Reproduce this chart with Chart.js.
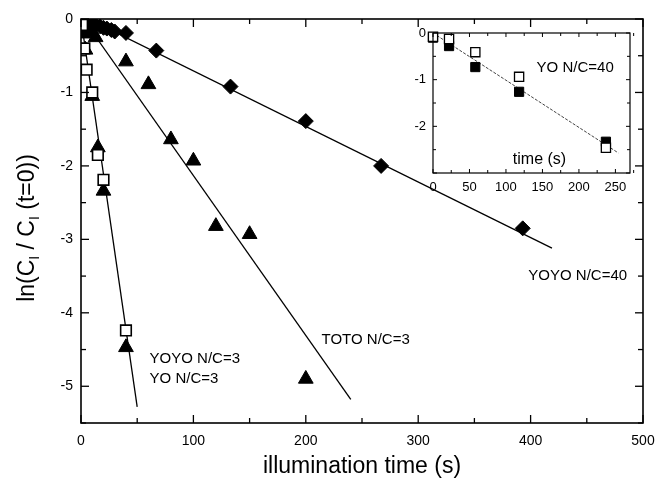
<!DOCTYPE html>
<html>
<head>
<meta charset="utf-8">
<script src="https://cdn.jsdelivr.net/npm/chart.js@4.4.1/dist/chart.umd.min.js"></script>
<style>
  html, body { margin: 0; padding: 0; background: #fff; }
  #wrap { position: relative; width: 657px; height: 481px; }
  #main { position: absolute; left: 0; top: 0; }
  #inset { position: absolute; left: 395px; top: 20px; }
</style>
</head>
<body>
<div id="wrap">
  <canvas id="main" width="657" height="481" style="width:657px;height:481px"></canvas>
  <canvas id="inset" width="250" height="180" style="width:250px;height:180px"></canvas>
</div>
<script>
// Main plot: ln(C_I / C_I(t=0)) vs illumination time (s)
const yoyo40Time = [0, 3, 6, 10, 13, 17, 20, 23, 27, 30, 40, 67, 133, 200, 267, 393];
const yoyo40Ln   = [0, -0.02, -0.04, -0.06, -0.08, -0.1, -0.12, -0.13, -0.15, -0.17, -0.19, -0.43, -0.92, -1.39, -2.0, -2.85];

const totoTime = [0, 3, 7, 10, 13, 40, 60, 80, 100, 120, 150, 200];
const totoLn   = [0, -0.05, -0.12, -0.18, -0.25, -0.58, -0.89, -1.64, -1.93, -2.82, -2.93, -4.9];

const yoyo3Time = [0, 1, 2, 4, 10, 15, 20, 40];
const yoyo3Ln   = [0, -0.1, -0.2, -0.42, -1.05, -1.75, -2.34, -4.47];

const yo3Time = [0, 1, 3, 5, 10, 15, 20, 40];
const yo3Ln   = [0, -0.08, -0.4, -0.69, -1.0, -1.85, -2.19, -4.24];

// fitted lines (end points)
const yoyo40FitTime = [0, 419];
const yoyo40FitLn   = [0.05, -3.12];
const totoFitTime = [2, 240];
const totoFitLn   = [0.0, -5.18];
const steepFitTime = [0, 50];
const steepFitLn   = [0, -5.28];

const xTicks = [0, 100, 200, 300, 400, 500];
const yTicks = [0, -1, -2, -3, -4, -5];

// Inset: YO N/C=40
const yo40Time     = [0, 22, 58, 118, 237];
const yo40FilledLn = [-0.1, -0.28, -0.73, -1.26, -2.33];
const yo40OpenLn   = [-0.08, -0.13, -0.41, -0.94, -2.46];
const yo40FitTime = [0, 254];
const yo40FitLn   = [0, -2.57];

const insetXTicks = [0, 50, 100, 150, 200, 250];
const insetYTicks = [0, -1, -2];

const FONT = '"Liberation Sans", Arial, Helvetica, sans-serif';

const pts = (xs, ys) => xs.map((x, i) => ({ x: x, y: ys[i] }));

// Frame with inward ticks on all four sides
const frameTicks = {
    id: 'frameTicks',
    afterDatasetsDraw(chart, args, o) {
        const { ctx, chartArea: a, scales: { x, y } } = chart;
        ctx.save();
        ctx.strokeStyle = '#000';
        ctx.lineWidth = o.lineWidth;
        ctx.strokeRect(a.left, a.top, a.right - a.left, a.bottom - a.top);
        ctx.lineWidth = o.tickWidth;
        const seg = (x1, y1, x2, y2) => {
            ctx.beginPath(); ctx.moveTo(x1, y1); ctx.lineTo(x2, y2); ctx.stroke();
        };
        const isMajor = (v, step) => Math.abs(v / step - Math.round(v / step)) < 1e-6;
        const nx = Math.round((x.max - x.min) / o.xMinor);
        for (let i = 0; i <= nx; i++) {
            const v = x.min + i * o.xMinor;
            const len = isMajor(v, o.xMajor) ? o.major : o.minor;
            const px = x.getPixelForValue(v);
            seg(px, a.bottom, px, a.bottom - len);
            seg(px, a.top, px, a.top + len);
        }
        const ny = Math.round((y.max - y.min) / o.yMinor);
        for (let i = 0; i <= ny; i++) {
            const v = y.min + i * o.yMinor;
            const len = isMajor(v, o.yMajor) ? o.major : o.minor;
            const py = y.getPixelForValue(v);
            seg(a.left, py, a.left + len, py);
            seg(a.right, py, a.right - len, py);
        }
        ctx.restore();
    }
};

// Text labels placed in data coordinates
const textLabels = {
    id: 'textLabels',
    afterDraw(chart, args, o) {
        const { ctx, scales: { x, y } } = chart;
        ctx.save();
        ctx.fillStyle = '#000';
        ctx.textBaseline = 'middle';
        (o.items || []).forEach(t => {
            ctx.font = t.size + 'px ' + FONT;
            ctx.textAlign = t.align || 'left';
            ctx.fillText(t.text, x.getPixelForValue(t.x), y.getPixelForValue(t.y));
        });
        ctx.restore();
    }
};

// White background for the inset plot area
const whiteArea = {
    id: 'whiteArea',
    beforeDatasetsDraw(chart) {
        const { ctx, chartArea: a } = chart;
        ctx.save();
        ctx.fillStyle = '#fff';
        ctx.fillRect(a.left, a.top, a.right - a.left, a.bottom - a.top);
        ctx.restore();
    }
};

// Axis titles of the main plot (y title has subscripts)
const axisTitles = {
    id: 'axisTitles',
    afterDraw(chart) {
        const { ctx, chartArea: a } = chart;
        ctx.save();
        ctx.fillStyle = '#000';
        ctx.textBaseline = 'middle';
        ctx.textAlign = 'center';
        ctx.font = '23px ' + FONT;
        ctx.fillText('illumination time (s)', (a.left + a.right) / 2, 467);

        const parts = [
            ['ln(C', 23, 0], ['I', 14, 7], [' / C', 23, 0], ['I', 14, 7], [' (t=0))', 23, 0]
        ];
        let total = 0;
        parts.forEach(p => { ctx.font = p[1] + 'px ' + FONT; total += ctx.measureText(p[0]).width; });
        ctx.translate(28, 228);
        ctx.rotate(-Math.PI / 2);
        ctx.textAlign = 'left';
        let cx = -total / 2;
        parts.forEach(p => {
            ctx.font = p[1] + 'px ' + FONT;
            ctx.fillText(p[0], cx, p[2]);
            cx += ctx.measureText(p[0]).width;
        });
        ctx.restore();
    }
};

const tickFont = size => ({ family: FONT, size: size });

// fix the scale box sizes so the plot area lands where the original has it
const fixX = h => s => { s.height = h; s.paddingLeft = 0; s.paddingRight = 0; };
const fixY = w => s => { s.width = w; s.paddingTop = 0; s.paddingBottom = 0; };

new Chart(document.getElementById('main'), {
    type: 'scatter',
    data: {
        datasets: [
            { label: 'YO N/C=3', data: pts(yo3Time, yo3Ln), pointStyle: 'rect', pointRadius: 7.5,
              backgroundColor: '#fff', borderColor: '#000', borderWidth: 1.6 },
            { label: 'YOYO N/C=3', data: pts(yoyo3Time, yoyo3Ln), pointStyle: 'triangle', pointRadius: 8.5,
              backgroundColor: '#000', borderColor: '#000', borderWidth: 1 },
            { label: 'TOTO N/C=3', data: pts(totoTime, totoLn), pointStyle: 'triangle', pointRadius: 8.5,
              backgroundColor: '#000', borderColor: '#000', borderWidth: 1 },
            { label: 'YOYO N/C=40', data: pts(yoyo40Time, yoyo40Ln), pointStyle: 'rectRot', pointRadius: 7.5,
              backgroundColor: '#000', borderColor: '#000', borderWidth: 1 },
            { data: pts(yoyo40FitTime, yoyo40FitLn), showLine: true, pointRadius: 0,
              borderColor: '#000', borderWidth: 1.3, fill: false },
            { data: pts(totoFitTime, totoFitLn), showLine: true, pointRadius: 0,
              borderColor: '#000', borderWidth: 1.3, fill: false },
            { data: pts(steepFitTime, steepFitLn), showLine: true, pointRadius: 0,
              borderColor: '#000', borderWidth: 1.3, fill: false }
        ]
    },
    options: {
        responsive: false,
        animation: false,
        layout: { padding: { left: 0, top: 19, right: 14, bottom: 0 } },
        plugins: {
            legend: { display: false },
            tooltip: { enabled: false },
            frameTicks: { lineWidth: 1.6, tickWidth: 1.3, xMajor: 100, xMinor: 50, yMajor: 1, yMinor: 0.5, major: 8, minor: 5 },
            textLabels: {
                items: [
                    { text: 'YOYO N/C=40', x: 398, y: -3.5, size: 15 },
                    { text: 'TOTO N/C=3', x: 214, y: -4.37, size: 15 },
                    { text: 'YOYO N/C=3', x: 61, y: -4.63, size: 15 },
                    { text: 'YO N/C=3', x: 61, y: -4.9, size: 15 }
                ]
            }
        },
        scales: {
            x: {
                type: 'linear', min: 0, max: 500,
                afterBuildTicks: s => { s.ticks = xTicks.map(v => ({ value: v })); },
                afterFit: fixX(58),
                grid: { display: false, drawTicks: false },
                border: { display: false },
                ticks: { font: tickFont(14), color: '#000', padding: 10, maxRotation: 0 }
            },
            y: {
                type: 'linear', min: -5.5, max: 0,
                afterBuildTicks: s => { s.ticks = yTicks.map(v => ({ value: v })); },
                afterFit: fixY(81),
                grid: { display: false, drawTicks: false },
                border: { display: false },
                ticks: { font: tickFont(14), color: '#000', padding: 8 }
            }
        }
    },
    plugins: [frameTicks, textLabels, axisTitles]
});

new Chart(document.getElementById('inset'), {
    type: 'scatter',
    data: {
        datasets: [
            { label: 'open', data: pts(yo40Time, yo40OpenLn), pointStyle: 'rect', pointRadius: 6.5,
              backgroundColor: '#fff', borderColor: '#000', borderWidth: 1.3 },
            { label: 'filled', data: pts(yo40Time, yo40FilledLn), pointStyle: 'rect', pointRadius: 6.5,
              backgroundColor: '#000', borderColor: '#000', borderWidth: 1 },
            { data: pts(yo40FitTime, yo40FitLn), showLine: true, pointRadius: 0,
              borderColor: '#444', borderWidth: 1, borderDash: [3, 1.5], fill: false }
        ]
    },
    options: {
        responsive: false,
        animation: false,
        clip: false,
        layout: { padding: { left: 0, top: 13, right: 15, bottom: 0 } },
        plugins: {
            legend: { display: false },
            tooltip: { enabled: false },
            frameTicks: { lineWidth: 1.2, tickWidth: 1, xMajor: 50, xMinor: 25, yMajor: 1, yMinor: 0.5, major: 4, minor: 3 },
            textLabels: {
                items: [
                    { text: 'YO N/C=40', x: 142, y: -0.75, size: 15 },
                    { text: 'time (s)', x: 146, y: -2.72, size: 16, align: 'center' }
                ]
            }
        },
        scales: {
            x: {
                type: 'linear', min: 0, max: 270,
                afterBuildTicks: s => { s.ticks = insetXTicks.map(v => ({ value: v })); },
                afterFit: fixX(27),
                grid: { display: false, drawTicks: false },
                border: { display: false },
                ticks: { font: tickFont(13), color: '#000', padding: 7, maxRotation: 0 }
            },
            y: {
                type: 'linear', min: -3, max: 0,
                afterBuildTicks: s => { s.ticks = insetYTicks.map(v => ({ value: v })); },
                afterFit: fixY(38),
                grid: { display: false, drawTicks: false },
                border: { display: false },
                ticks: { font: tickFont(13), color: '#000', padding: 7 }
            }
        }
    },
    plugins: [whiteArea, frameTicks, textLabels]
});
</script>
</body>
</html>
